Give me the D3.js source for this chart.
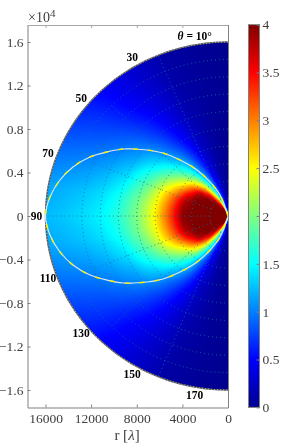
<!DOCTYPE html>
<html>
<head>
<meta charset="utf-8">
<script src="https://cdn.jsdelivr.net/npm/d3@7"></script>
<style>
html, body { margin: 0; padding: 0; background: #fff; }
#wrap { position: relative; width: 281px; height: 445px; overflow: hidden; }
canvas, svg { position: absolute; left: 0; top: 0; }
text { font-family: "Liberation Serif", serif; }
</style>
</head>
<body>
<div id="wrap"><canvas id="field" width="281" height="445"></canvas><svg id="chart" width="281" height="445"></svg></div>
<script>
// values, v(theta, r), bottom half mirrors the top half
const rGrid = [0, 800, 1600, 2400, 3200, 4000, 4800, 5600, 6400, 7200, 8000, 9600, 11200, 12800, 14400, 16000];
const thetaGrid = [0, 10, 20, 30, 40, 50, 60, 70, 80, 90];
const v0 =  [0, 0, 0, 0, 0, 0, 0, 0, 0, 0, 0, 0, 0, 0, 0, 0];
const v10 = [4, 0.5, 0.28, 0.18, 0.13, 0.1, 0.09, 0.08, 0.07, 0.06, 0.06, 0.05, 0.05, 0.05, 0.04, 0.04];
const v20 = [4, 2.2, 1.2, 0.8, 0.6, 0.45, 0.37, 0.3, 0.26, 0.22, 0.2, 0.16, 0.13, 0.11, 0.1, 0.09];
const v30 = [4, 3.9, 3.0, 2.2, 1.65, 1.25, 1.0, 0.85, 0.72, 0.62, 0.52, 0.42, 0.35, 0.3, 0.27, 0.25];
const v40 = [4, 4, 3.9, 3.55, 2.9, 2.3, 1.8, 1.5, 1.25, 1.05, 0.9, 0.72, 0.6, 0.5, 0.45, 0.42];
const v50 = [4, 4, 4, 4, 3.75, 3.05, 2.4, 2.0, 1.7, 1.48, 1.28, 1.02, 0.85, 0.73, 0.66, 0.6];
const v60 = [4, 4, 4, 4, 4, 3.5, 2.9, 2.45, 2.1, 1.8, 1.58, 1.22, 1.04, 0.92, 0.84, 0.78];
const v70 = [4, 4, 4, 4, 4, 3.8, 3.25, 2.8, 2.4, 2.05, 1.8, 1.42, 1.22, 1.1, 1.03, 0.97];
const v80 = [4, 4, 4, 4, 4, 3.9, 3.35, 2.9, 2.5, 2.2, 1.95, 1.58, 1.38, 1.27, 1.2, 1.15];
const v90 = [4, 4, 4, 4, 4, 3.95, 3.4, 2.95, 2.55, 2.25, 2.0, 1.65, 1.46, 1.36, 1.28, 1.23];
const fieldRows = [v0, v10, v20, v30, v40, v50, v60, v70, v80, v90];

// white/yellow curve, upper half, x in lambda, y in 1e4 lambda
const curveX = [0, 701, 1578, 2718, 4208, 5699, 7103, 8331, 9207, 10610, 12100, 13590, 14730, 15610, 16000];
const curveY = [0, 0.193, 0.313, 0.423, 0.515, 0.579, 0.607, 0.616, 0.616, 0.589, 0.543, 0.451, 0.331, 0.175, 0];

const xTicks = [16000, 12000, 8000, 4000, 0];
const yTicks = [-1.6, -1.2, -0.8, -0.4, 0, 0.4, 0.8, 1.2, 1.6];
const cbTicks = [0, 0.5, 1, 1.5, 2, 2.5, 3, 3.5, 4];
const angleLabels = [30, 50, 70, 90, 110, 130, 150, 170];
const gridRings = [1600, 3200, 4800, 6400, 8000, 9600, 11200, 12800, 14400];
const gridSpokes = [22.5, 45, 67.5, 90, 112.5, 135, 157.5];
const spokeEnds = [16000, 14400, 12800, 16000, 12800, 14400, 16000];

const rMax = 16000;
const textColor = "#404040";

const x = d3.scaleLinear().domain([17580, 0]).range([27.5, 228]);
const y = d3.scaleLinear().domain([-1.76, 1.76]).range([407.4, 24.6]);
const cb = d3.scaleLinear().domain([0, 4]).range([407.4, 24.6]);

// jet
const jet = d3.scaleLinear()
  .domain([0, 0.5, 1.5, 2.5, 3.5, 4])
  .range(["#00008f", "#0000ff", "#00ffff", "#ffff00", "#ff0000", "#800000"])
  .clamp(true);

const rowScales = fieldRows.map(row => d3.scaleLinear().domain(rGrid).range(row).clamp(true));

function fieldAt(r, theta) {
  const t = theta > 90 ? 180 - theta : theta;
  const i = Math.min(d3.bisectRight(thetaGrid, t) - 1, thetaGrid.length - 2);
  return d3.scaleLinear()
    .domain([thetaGrid[i], thetaGrid[i + 1]])
    .range([rowScales[i](r), rowScales[i + 1](r)])(t);
}

// heat map, one pixel at a time
const ctx = document.getElementById("field").getContext("2d");
const img = ctx.createImageData(281, 445);
for (let py = 25; py < 407; py++) {
  for (let px = 28; px < 228; px++) {
    const dx = x.invert(px + 0.5);
    const dy = y.invert(py + 0.5) * 1e4;
    const r = Math.sqrt(dx * dx + dy * dy);
    if (r > rMax) continue;
    const theta = Math.atan2(dx, dy) * 180 / Math.PI;
    const c = d3.rgb(jet(fieldAt(r, theta)));
    const k = (py * 281 + px) * 4;
    img.data[k] = c.r;
    img.data[k + 1] = c.g;
    img.data[k + 2] = c.b;
    img.data[k + 3] = 255;
  }
}
ctx.putImageData(img, 0, 0);

const svg = d3.select("#chart");

function polarPoint(r, thetaDeg) {
  const a = thetaDeg * Math.PI / 180;
  return [x(r * Math.sin(a)), y(r * Math.cos(a) / 1e4)];
}

const polarLine = d3.line().curve(d3.curveLinear);
function arcPath(r, from, to) {
  return polarLine(d3.range(from, to + 0.5, 1).map(t => polarPoint(r, t)));
}

// dotted polar grid
const grid = svg.append("g")
  .attr("fill", "none")
  .attr("stroke", "#1a6f95")
  .attr("stroke-width", 1)
  .attr("stroke-opacity", 0.8)
  .attr("stroke-dasharray", "1 3");

gridRings.forEach(r => {
  if (r == 14400) {
    grid.append("path").attr("d", arcPath(r, 0, 60));
    grid.append("path").attr("d", arcPath(r, 120, 180));
  } else {
    grid.append("path").attr("d", arcPath(r, 0, 180));
  }
});
gridSpokes.forEach((t, i) => {
  grid.append("path").attr("d", polarLine([polarPoint(1600, t), polarPoint(spokeEnds[i], t)]));
});

// outer edge
svg.append("path")
  .attr("d", arcPath(rMax, 0, 180))
  .attr("fill", "none")
  .attr("stroke", "#555")
  .attr("stroke-width", 1.4);
svg.append("path")
  .attr("d", arcPath(rMax, 0, 180))
  .attr("fill", "none")
  .attr("stroke", "#ddd")
  .attr("stroke-width", 0.7)
  .attr("stroke-dasharray", "1 2");

// curve, white line under yellow dashes
const curvePts = curveX.map((d, i) => [d, curveY[i]])
  .concat(curveX.map((d, i) => [d, -curveY[i]]).reverse().slice(1));
const curveLine = d3.line()
  .x(d => x(d[0]))
  .y(d => y(d[1]))
  .curve(d3.curveCatmullRom);
svg.append("path")
  .attr("d", curveLine(curvePts))
  .attr("fill", "none")
  .attr("stroke", "#d6e8f6")
  .attr("stroke-width", 1.2);
svg.append("path")
  .attr("d", curveLine(curvePts))
  .attr("fill", "none")
  .attr("stroke", "#ffee00")
  .attr("stroke-width", 1.4)
  .attr("stroke-dasharray", "5 10");

// angle labels
const labels = svg.append("g")
  .attr("font-size", 11.5)
  .attr("font-weight", "bold")
  .attr("fill", "#000")
  .attr("text-anchor", "middle");
angleLabels.forEach(t => {
  const p = polarPoint(16800, t);
  labels.append("text").attr("x", p[0]).attr("y", p[1] + 3.5).text(t);
});
const p10 = polarPoint(16800, 10);
const title = labels.append("text").attr("x", p10[0]).attr("y", p10[1] + 3.5);
title.append("tspan").attr("font-style", "italic").text("θ");
title.append("tspan").text(" = 10°");

// axes
function styleAxis(g) {
  g.selectAll("path, line").attr("stroke", "#808080");
  g.selectAll("text")
    .attr("fill", textColor)
    .attr("font-size", 13.5);
}

svg.append("g")
  .attr("transform", "translate(0,407.5)")
  .call(d3.axisBottom(x).tickValues(xTicks).tickFormat(d3.format("d")).tickSizeInner(-3).tickSizeOuter(0).tickPadding(6))
  .call(styleAxis);
svg.append("g")
  .attr("transform", "translate(27.5,0)")
  .call(d3.axisLeft(y).tickValues(yTicks).tickFormat(d => d == 0 ? "0" : d3.format(".1f")(d)).tickSizeInner(-3).tickSizeOuter(0).tickPadding(4))
  .call(styleAxis);
// top and right box lines
svg.append("g")
  .attr("transform", "translate(0,25)")
  .call(d3.axisTop(x).tickValues(xTicks).tickFormat("").tickSizeInner(-3).tickSizeOuter(0))
  .call(styleAxis)
  .selectAll("path, line").attr("stroke", "#a8a8a8");
svg.append("g")
  .attr("transform", "translate(228,0)")
  .call(d3.axisRight(y).tickValues([]).tickSizeOuter(0))
  .call(styleAxis);

// exponent
const expo = svg.append("text")
  .attr("x", 28)
  .attr("y", 22)
  .attr("fill", textColor)
  .attr("font-size", 14);
expo.append("tspan").text("×10");
expo.append("tspan").attr("font-size", 11).attr("dy", -5).text("4");

// x label
const xlab = svg.append("text")
  .attr("x", 127)
  .attr("y", 440)
  .attr("text-anchor", "middle")
  .attr("fill", textColor)
  .attr("font-size", 15);
xlab.append("tspan").text("r [");
xlab.append("tspan").attr("font-style", "italic").text("λ");
xlab.append("tspan").text("]");

// colour bar
const barLeft = 248.5, barWidth = 11;
const bar = svg.append("g");
d3.range(25, 407).forEach(py => {
  bar.append("rect")
    .attr("x", barLeft)
    .attr("y", py)
    .attr("width", barWidth)
    .attr("height", 1.2)
    .attr("fill", jet(cb.invert(py + 0.5)));
});
svg.append("rect")
  .attr("x", barLeft)
  .attr("y", 24.6)
  .attr("width", barWidth)
  .attr("height", 382.8)
  .attr("fill", "none")
  .attr("stroke", "#808080");
svg.append("g")
  .attr("transform", "translate(" + (barLeft + barWidth) + ",0)")
  .call(d3.axisRight(cb).tickValues(cbTicks).tickFormat(d3.format("")).tickSizeInner(-3).tickSizeOuter(0).tickPadding(3))
  .call(styleAxis)
  .select(".domain").remove();
</script>
</body>
</html>
